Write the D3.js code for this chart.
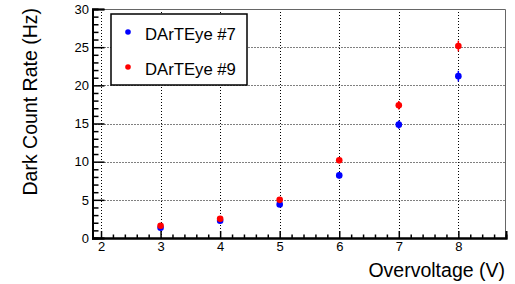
<!DOCTYPE html>
<html>
<head>
<meta charset="utf-8">
<script src="https://cdn.jsdelivr.net/npm/d3@7"></script>
<style>
  body { margin: 0; background: #fff; }
  svg { display: block; font-family: "Liberation Sans", Arial, sans-serif; }
</style>
</head>
<body>
<svg id="chart"></svg>
<script>
// values
const overvoltage = [3, 4, 5, 6, 7, 8];
const rate7 = [1.35, 2.27, 4.4, 8.2, 14.85, 21.2];
const err7 = [0.15, 0.2, 0.3, 0.4, 0.55, 0.7];
const rate9 = [1.61, 2.53, 5.0, 10.18, 17.4, 25.15];
const err9 = [0.15, 0.2, 0.3, 0.4, 0.55, 0.7];
const xTicks = [2, 3, 4, 5, 6, 7, 8];
const yTicks = [0, 5, 10, 15, 20, 25, 30];
const seriesNames = ["DArTEye #7", "DArTEye #9"];
const seriesColors = ["#0000ff", "#ff0000"];

const width = 515, height = 284;
const frame = { left: 92.5, right: 506, top: 9, bottom: 238 };

const svg = d3.select("#chart").attr("width", width).attr("height", height);

const x = d3.scaleLinear().domain([1.857, 8.8]).range([frame.left, frame.right]);
const y = d3.scaleLinear().domain([0, 30]).range([frame.bottom, frame.top]);

// dotted grid at major ticks
const grid = svg.append("g").attr("stroke", "#000").attr("stroke-width", 1)
  .attr("stroke-dasharray", "1,2");
grid.selectAll(".gx").data(xTicks).enter().append("line")
  .attr("x1", d => Math.round(x(d)) + 0.5).attr("x2", d => Math.round(x(d)) + 0.5)
  .attr("y1", frame.top).attr("y2", frame.bottom);
grid.selectAll(".gy").data(yTicks.filter(d => d > 0 && d < 30)).enter().append("line")
  .attr("y1", d => Math.round(y(d)) + 0.5).attr("y2", d => Math.round(y(d)) + 0.5)
  .attr("x1", frame.left).attr("x2", frame.right);

// top and right frame lines
svg.append("path")
  .attr("d", `M${frame.left},${frame.top + 0.5}H${frame.right - 0.5}V${frame.bottom}`)
  .attr("fill", "none").attr("stroke", "#666").attr("stroke-width", 1);

// x axis
const xMinor = d3.range(2.2, 8.7, 0.2).filter(v => Math.abs(v - Math.round(v)) > 0.01);
svg.append("g").attr("transform", `translate(0,${frame.bottom})`)
  .call(d3.axisBottom(x).tickValues(xMinor).tickSize(-3.5).tickFormat(""));
svg.append("g").attr("class", "xaxis").attr("transform", `translate(0,${frame.bottom})`)
  .call(d3.axisBottom(x).tickValues(xTicks).tickSize(-7).tickPadding(4).tickFormat(d3.format("d")));

// y axis
const yMinor = d3.range(1, 30, 1).filter(v => v % 5 !== 0);
svg.append("g").attr("transform", `translate(${frame.left},0)`)
  .call(d3.axisLeft(y).tickValues(yMinor).tickSize(-6).tickFormat(""));
svg.append("g").attr("class", "yaxis").attr("transform", `translate(${frame.left},0)`)
  .call(d3.axisLeft(y).tickValues(yTicks).tickSize(-12).tickPadding(3.5).tickFormat(d3.format("d")));

svg.selectAll(".domain").attr("stroke", "#000").attr("stroke-width", 2);
svg.selectAll(".tick line").attr("stroke", "#000").attr("stroke-width", 1.5);
svg.selectAll(".tick text").attr("font-size", "13px").attr("fill", "#000")
  .attr("font-family", "Liberation Sans, Arial, sans-serif");

// axis titles
svg.append("text")
  .attr("x", 505).attr("y", 277)
  .attr("text-anchor", "end").attr("font-size", "19.5px")
  .text("Overvoltage (V)");

svg.append("text")
  .attr("transform", "translate(37,8) rotate(-90)")
  .attr("text-anchor", "end").attr("font-size", "19.5px")
  .text("Dark Count Rate (Hz)");

// data points with error bars
const series = [
  { values: rate7, errors: err7 },
  { values: rate9, errors: err9 }
];
series.forEach((s, i) => {
  const pts = overvoltage.map((v, j) => ({ x: v, y: s.values[j], e: s.errors[j] }));
  const g = svg.append("g");
  g.selectAll("line").data(pts).enter().append("line")
    .attr("x1", d => x(d.x)).attr("x2", d => x(d.x))
    .attr("y1", d => y(d.y - d.e)).attr("y2", d => y(d.y + d.e))
    .attr("stroke", seriesColors[i]).attr("stroke-width", 1.5);
  g.selectAll("circle").data(pts).enter().append("circle")
    .attr("cx", d => x(d.x)).attr("cy", d => y(d.y))
    .attr("r", 3.3).attr("fill", seriesColors[i]);
});

// legend
const legend = svg.append("g");
legend.append("rect")
  .attr("x", 111).attr("y", 14).attr("width", 136).attr("height", 71)
  .attr("fill", "#fff").attr("stroke", "#000").attr("stroke-width", 1.5);
seriesNames.forEach((name, i) => {
  const row = legend.append("g").attr("transform", `translate(0,${i * 35})`);
  row.append("circle").attr("cx", 128).attr("cy", 32).attr("r", 2.8).attr("fill", seriesColors[i]);
  row.append("text").attr("x", 145).attr("y", 39.5)
    .attr("font-size", "16.7px").text(name);
});
</script>
</body>
</html>
